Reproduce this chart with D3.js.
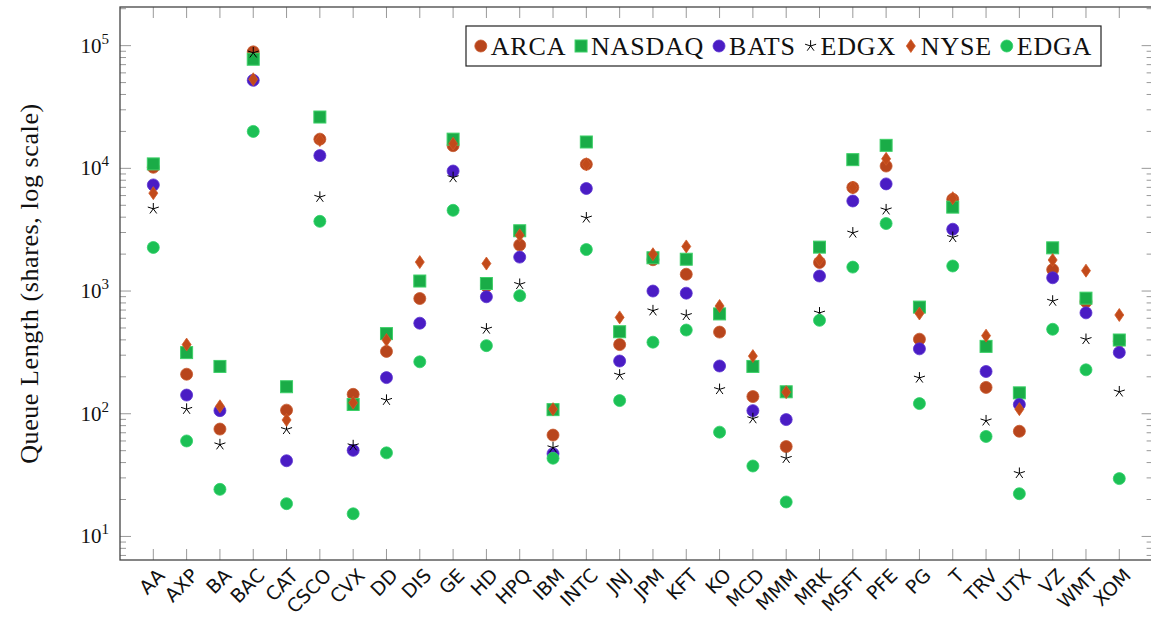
<!DOCTYPE html>
<html>
<head>
<meta charset="utf-8">
<script src="https://cdn.jsdelivr.net/npm/d3@7"></script>
<style>
  body { margin: 0; background: #fff; }
  svg { display: block; }
</style>
</head>
<body>
<svg id="chart" width="1151" height="626"></svg>
<script>
var stocks = ['AA', 'AXP', 'BA', 'BAC', 'CAT', 'CSCO', 'CVX', 'DD', 'DIS', 'GE',
  'HD', 'HPQ', 'IBM', 'INTC', 'JNJ', 'JPM', 'KFT', 'KO', 'MCD', 'MMM',
  'MRK', 'MSFT', 'PFE', 'PG', 'T', 'TRV', 'UTX', 'VZ', 'WMT', 'XOM'];

var arca = [10200, 210, 75, 89000, 107, 17300, 144, 322, 869, 15300,
  1100, 2375, 67, 10800, 366, 1800, 1371, 463, 138, 54,
  1709, 6980, 10440, 405, 5600, 164, 72, 1495, 818, 390];
var nasdaq = [10870, 315, 243, 77500, 166, 26200, 119, 450, 1207, 17300,
  1152, 3100, 108, 16400, 466, 1867, 1817, 651, 243, 151,
  2280, 11770, 15400, 740, 4830, 354, 148, 2250, 875, 399];
var bats = [7330, 142, 106, 52200, 41.4, 12700, 50.3, 197, 547, 9510,
  898, 1890, 47.3, 6850, 269, 1000, 961, 245, 106, 89.6,
  1326, 5420, 7470, 338, 3190, 221, 119, 1283, 664, 316];
var edgx = [4680, 109, 56, 87500, 74.6, 5830, 55, 129, null, 8430,
  491, 1135, 53, 3950, 207, 692, 634, 158, 91.4, 43.4,
  664, 2980, 4600, 196, 2740, 87.7, 32.7, 829, 404, 151];
var nyse = [6280, 366, 115, 53200, 89, 17000, 123, 399, 1722, 15900,
  1675, 2850, 109, 10800, 610, 1995, 2310, 755, 295, 150,
  1803, 6980, 11950, 656, 5710, 433, 109, 1791, 1466, 638];
var edga = [2265, 60, 24.2, 20000, 18.5, 3700, 15.3, 48, 265, 4550,
  359, 916, 43.4, 2180, 128, 383, 481, 70.8, 37.5, 19.1,
  577, 1567, 3550, 121, 1600, 65.3, 22.3, 488, 228, 29.6];

var yTicks = [10, 100, 1000, 10000, 100000];

(function() {
  var series = [
    {name: 'ARCA', values: arca, mark: 'circle', fill: '#b8451c', stroke: '#c85a2e'},
    {name: 'NASDAQ', values: nasdaq, mark: 'square', fill: '#1aac47', stroke: '#3dd068'},
    {name: 'BATS', values: bats, mark: 'circle', fill: '#4a1cc4', stroke: '#5a34d0'},
    {name: 'EDGX', values: edgx, mark: 'star', fill: 'none', stroke: '#000'},
    {name: 'NYSE', values: nyse, mark: 'diamond', fill: '#c24a1a', stroke: '#d05a28'},
    {name: 'EDGA', values: edga, mark: 'circle', fill: '#1cc055', stroke: '#30d068'}
  ];

  var serif = '"Liberation Serif", "DejaVu Serif", serif';
  var sans = '"DejaVu Sans", sans-serif';

  var plotLeft = 120, plotRight = 1152.6, plotTop = 7, plotBottom = 560;

  var svg = d3.select('#chart');

  var x = d3.scalePoint()
      .domain(stocks)
      .range([plotLeft, plotRight])
      .padding(1);

  var y = d3.scaleLog()
      .domain([Math.pow(10, 0.808), Math.pow(10, 5.315)])
      .range([plotBottom, plotTop]);

  // Minor ticks 2..9 in each decade.
  var minor = [];
  for (var e = 0; e <= 5; e++) {
    for (var m = 2; m <= 9; m++) {
      var v = m * Math.pow(10, e);
      if (v > y.domain()[0] && v < y.domain()[1]) minor.push(v);
    }
  }

  var ticks = svg.append('g').attr('class', 'ticks')
      .style('stroke', '#999')
      .style('stroke-width', 1);

  // Left and right ticks.
  [plotLeft, plotRight].forEach(function(px, side) {
    var dir = side === 0 ? 1 : -1;
    ticks.selectAll(null).data(yTicks).enter().append('line')
        .attr('x1', px).attr('x2', px + dir * 11)
        .attr('y1', function(d) { return y(d); })
        .attr('y2', function(d) { return y(d); });
    ticks.selectAll(null).data(minor).enter().append('line')
        .attr('x1', px).attr('x2', px + dir * 6)
        .attr('y1', function(d) { return y(d); })
        .attr('y2', function(d) { return y(d); });
  });

  // Top and bottom ticks.
  [plotTop, plotBottom].forEach(function(py, side) {
    var dir = side === 0 ? 1 : -1;
    ticks.selectAll(null).data(stocks).enter().append('line')
        .attr('x1', function(d) { return x(d); })
        .attr('x2', function(d) { return x(d); })
        .attr('y1', py).attr('y2', py + dir * 11);
  });

  // Frame.
  svg.append('rect')
      .attr('x', plotLeft).attr('y', plotTop)
      .attr('width', plotRight - plotLeft).attr('height', plotBottom - plotTop)
      .style('fill', 'none')
      .style('stroke', '#444')
      .style('stroke-width', 1.3);

  // Y tick labels as 10^n.
  var yLabels = svg.append('g').attr('class', 'y labels')
      .style('font-family', serif)
      .style('fill', '#111');
  yLabels.selectAll('text').data(yTicks).enter().append('text')
      .attr('x', plotLeft - 11)
      .attr('y', function(d) { return y(d) + 7; })
      .attr('text-anchor', 'end')
      .each(function(d) {
        var t = d3.select(this);
        t.append('tspan').text('10').style('font-size', '21px');
        t.append('tspan').text(Math.round(Math.log10(d)))
            .attr('dy', -9).style('font-size', '15px');
      });

  // Y axis title.
  svg.append('text')
      .attr('transform', 'translate(38,' + ((plotTop + plotBottom) / 2) + ') rotate(-90)')
      .attr('text-anchor', 'middle')
      .style('font-family', serif)
      .style('font-size', '26px')
      .style('letter-spacing', '0.6px')
      .style('fill', '#111')
      .text('Queue Length (shares, log scale)');

  // X tick labels, rotated.
  svg.append('g').attr('class', 'x labels')
      .selectAll('text').data(stocks).enter().append('text')
      .attr('transform', function(d) {
        return 'translate(' + (x(d) + 8) + ',' + (plotBottom + 12) + ') rotate(-45)';
      })
      .attr('text-anchor', 'end')
      .attr('dy', '0.35em')
      .style('font-family', sans)
      .style('font-size', '19px')
      .style('fill', '#111')
      .text(function(d) { return d; });

  // Marker shapes.
  function drawMark(g, mark, fill, stroke) {
    if (mark === 'circle') {
      g.append('circle').attr('r', 6)
          .style('fill', fill).style('stroke', stroke).style('stroke-width', 0.8);
    } else if (mark === 'square') {
      g.append('rect').attr('x', -6).attr('y', -6).attr('width', 12).attr('height', 12)
          .style('fill', fill).style('stroke', stroke).style('stroke-width', 1);
    } else if (mark === 'diamond') {
      g.append('path').attr('d', 'M0,-6.5L4.5,0L0,6.5L-4.5,0Z')
          .style('fill', fill).style('stroke', stroke).style('stroke-width', 0.8);
    } else if (mark === 'star') {
      var p = '';
      for (var k = 0; k < 5; k++) {
        var a = -Math.PI / 2 + k * 2 * Math.PI / 5;
        p += 'M0,0L' + (5.8 * Math.cos(a)).toFixed(2) + ',' + (5.8 * Math.sin(a)).toFixed(2);
      }
      g.append('path').attr('d', p)
          .style('fill', 'none').style('stroke', stroke).style('stroke-width', 1);
    }
  }

  // Draw each series in legend order.
  series.forEach(function(s) {
    var pts = s.values.map(function(v, i) { return {stock: stocks[i], value: v}; })
        .filter(function(d) { return d.value != null; });
    svg.append('g').attr('class', 'series ' + s.name)
        .selectAll('g').data(pts).enter().append('g')
        .attr('transform', function(d) {
          return 'translate(' + x(d.stock) + ',' + y(d.value) + ')';
        })
        .each(function() { drawMark(d3.select(this), s.mark, s.fill, s.stroke); });
  });

  // Legend.
  var box = {x0: 466, x1: 1101, y0: 26, y1: 66};
  var legend = svg.append('g').attr('class', 'legend');
  legend.append('rect')
      .attr('x', box.x0).attr('y', box.y0)
      .attr('width', box.x1 - box.x0)
      .attr('height', box.y1 - box.y0)
      .style('fill', '#fff').style('stroke', '#222').style('stroke-width', 1.2);

  var items = legend.selectAll('g.item').data(series).enter().append('g')
      .attr('class', 'item');
  var labels = items.append('text')
      .attr('y', box.y0 + 29)
      .style('font-family', serif)
      .style('font-size', '26px')
      .style('letter-spacing', '0.8px')
      .style('fill', '#111')
      .text(function(d) { return d.name; });

  var markW = 12, markGap = 4;
  var widths = labels.nodes().map(function(n) { return n.getComputedTextLength(); });
  var total = d3.sum(widths) + series.length * (markW + markGap);
  var gap = (box.x1 - box.x0 - total) / (series.length + 1);
  var cx = box.x0 + gap;
  items.each(function(d, i) {
    var g = d3.select(this);
    var mg = g.insert('g', 'text')
        .attr('transform', 'translate(' + (cx + markW / 2) + ',' + (box.y0 + 20) + ')');
    drawMark(mg, d.mark, d.fill, d.stroke);
    g.select('text').attr('x', cx + markW + markGap);
    cx += markW + markGap + widths[i] + gap;
  });
})();
</script>
</body>
</html>
